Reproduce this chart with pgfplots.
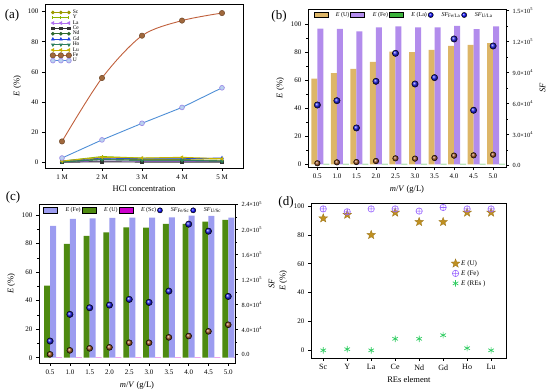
\documentclass[border=0pt]{standalone}
\usepackage{fontspec}
\setmainfont{Liberation Serif}
\usepackage{pgfplots}
\pgfplotsset{compat=1.18}

\definecolor{cSc}{HTML}{9C9A00}
\definecolor{cY}{HTML}{8DB600}
\definecolor{cLa}{HTML}{B070F0}
\definecolor{cCe}{HTML}{333333}
\definecolor{cNd}{HTML}{2E6B2E}
\definecolor{cGd}{HTML}{2244DD}
\definecolor{cHo}{HTML}{2F7F5F}
\definecolor{cLu}{HTML}{C8B400}
\definecolor{cFeL}{HTML}{C0603C}
\definecolor{cFeM}{HTML}{A0683C}
\definecolor{cUL}{HTML}{4F8FD6}
\definecolor{cUM}{HTML}{A090E8}
\definecolor{bU}{HTML}{DDB668}
\definecolor{bFe}{HTML}{B28CEC}
\definecolor{bLa}{HTML}{3CB33C}
\definecolor{cFe2}{HTML}{9C9CF0}
\definecolor{cU2}{HTML}{4E8A10}
\definecolor{cSc2}{HTML}{CC00CC}
\definecolor{sBlue}{HTML}{1A1AE0}
\definecolor{sBrown}{HTML}{9A5020}
\definecolor{dStar}{HTML}{C09020}
\definecolor{dFe}{HTML}{9966FF}
\definecolor{dRE}{HTML}{2ECC60}

\pgfdeclareplotmark{fstar}{%
  \pgfpathmoveto{\pgfpointpolar{90}{\pgfplotmarksize}}%
  \pgfpathlineto{\pgfpointpolar{126}{0.42\pgfplotmarksize}}%
  \pgfpathlineto{\pgfpointpolar{162}{\pgfplotmarksize}}%
  \pgfpathlineto{\pgfpointpolar{198}{0.42\pgfplotmarksize}}%
  \pgfpathlineto{\pgfpointpolar{234}{\pgfplotmarksize}}%
  \pgfpathlineto{\pgfpointpolar{270}{0.42\pgfplotmarksize}}%
  \pgfpathlineto{\pgfpointpolar{306}{\pgfplotmarksize}}%
  \pgfpathlineto{\pgfpointpolar{342}{0.42\pgfplotmarksize}}%
  \pgfpathlineto{\pgfpointpolar{18}{\pgfplotmarksize}}%
  \pgfpathlineto{\pgfpointpolar{54}{0.42\pgfplotmarksize}}%
  \pgfpathclose
  \pgfusepathqfillstroke}

\pgfplotsset{
  base/.style={scale only axis, anchor=south west, tick align=outside,
    axis line style={line width=0.8pt},
    major tick length=3pt, minor tick length=1.6pt,
    every tick/.style={black, line width=0.6pt},
    tick label style={font=\fontsize{7}{8}\selectfont},
    label style={font=\fontsize{8.5}{10}\selectfont},
    /pgf/number format/assume math mode=true,
    scaled y ticks=false, scaled x ticks=false,
    clip mode=individual},
  barleg/.style={legend image code/.code={\fill[##1] (0pt,-2.5pt) rectangle (14pt,3pt);}},
  ballleg/.style={legend image code/.code={\pgfsetplotmarksize{2.6pt}\pgfuseplotmark{ball}}},
}

\begin{document}
\begin{tikzpicture}
\useasboundingbox (0,0) rectangle (550pt,390pt);

% ---------------- (a)
\begin{axis}[base, at={(45pt,222pt)}, width=198pt, height=164pt,
  xmin=-0.425, xmax=4.525, ymin=-3.6, ymax=105,
  xtick={0,1,2,3,4}, xticklabels={1 M,2 M,3 M,4 M,5 M},
  ytick={0,20,...,100}, xtick pos=bottom, ytick pos=left,
  xlabel={HCl concentration}, ylabel={\textit{E} (\%)},
  legend cell align=left,
  legend style={draw=none, fill=none, at={(0.01,0.985)}, anchor=north west,
    font=\fontsize{5.5}{6}\selectfont, row sep=-2.2pt,
    nodes={inner sep=1.2pt}},
  legend image code/.code={\draw[#1] plot coordinates {(0pt,0pt) (8pt,0pt) (16pt,0pt)};},
  every axis plot/.append style={line width=0.9pt, mark size=1.4pt, mark repeat=1}]
\addplot[cSc, mark=*] coordinates {(0,0.5) (1,2.5) (2,2) (3,2) (4,1.5)};
\addlegendentry{Sc}
\addplot[cY, mark=|] coordinates {(0,1) (1,4) (2,3) (3,3) (4,2.5)};
\addlegendentry{Y}
\addplot[cLa, mark=triangle*, mark options={rotate=90}] coordinates {(0,0.3) (1,1) (2,0.8) (3,0.8) (4,0.8)};
\addlegendentry{La}
\addplot[cCe, mark=square*] coordinates {(0,0.2) (1,0.5) (2,0.3) (3,0.3) (4,0.3)};
\addlegendentry{Ce}
\addplot[cNd, mark=*] coordinates {(0,0.5) (1,2) (2,1.5) (3,1.5) (4,1)};
\addlegendentry{Nd}
\addplot[cGd, mark=triangle*] coordinates {(0,1) (1,3) (2,2.5) (3,2.5) (4,3)};
\addlegendentry{Gd}
\addplot[cHo, mark=triangle*, mark options={rotate=180}] coordinates {(0,0.5) (1,2) (2,1.5) (3,1.5) (4,1)};
\addlegendentry{Ho}
\addplot[cLu, mark=triangle*, mark options={rotate=90}] coordinates {(0,1) (1,3.5) (2,3) (3,3.5) (4,2.5)};
\addlegendentry{Lu}
\addplot[cFeL, smooth, mark=*, mark size=2.7pt, mark options={fill=cFeM, draw=cFeM!70!black, line width=0.5pt}] coordinates {(0,14) (1,56) (2,84) (3,94) (4,99)};
\addlegendentry{Fe}
\addplot[cUL, mark=*, mark size=2.4pt, mark options={fill=cUL!40!white, draw=cUM, line width=0.7pt}] coordinates {(0,3) (1,15) (2,26) (3,36.5) (4,49.5)};
\addlegendentry{U}
\end{axis}

% ---------------- (b) left
\begin{axis}[base, at={(308pt,223pt)}, width=198pt, height=158pt,
  xmin=0.26, xmax=5.33, ymin=-1.9, ymax=110.7,
  xtick={0.5,1,1.5,2,2.5,3,3.5,4,4.5,5},
  xticklabels={0.5,1.0,1.5,2.0,2.5,3.0,3.5,4.0,4.5,5.0},
  ytick={0,20,...,100}, minor y tick num=1,
  xtick pos=bottom, ytick pos=left,
  xlabel={\textit{m}/\textit{V} (g/L)}, ylabel={\textit{E} (\%)}]
\addplot[ybar, bar width=6pt, bar shift=-3pt, fill=bU, draw=none] coordinates {(0.5,61) (1,65) (1.5,68) (2,73) (2.5,80.4) (3,80) (3.5,81.6) (4,84.5) (4.5,85.2) (5,86.4)};
\addplot[ybar, bar width=6pt, bar shift=3pt, fill=bFe, draw=none] coordinates {(0.5,96.7) (1,96.6) (1.5,94.7) (2,97.6) (2.5,98.3) (3,97.6) (3.5,97.6) (4,98.6) (4.5,96.4) (5,98.3)};
\addplot[ybar, bar width=6pt, bar shift=9pt, fill=bLa, draw=none] coordinates {(0.5,0.3) (1,0.3) (1.5,0.3) (2,0.3) (2.5,0.3) (3,0.3) (3.5,0.3) (4,0.3) (4.5,0.3) (5,0.3)};
\end{axis}
% ---------------- (b) right
\begin{axis}[base, at={(308pt,223pt)}, width=198pt, height=158pt,
  xmin=0.26, xmax=5.33, ymin=-1300, ymax=151600,
  axis x line=none, axis y line*=right,
  ytick={0,30000,60000,90000,120000,150000}, minor y tick num=1,
  yticklabels={0.0,3.0×10\textsuperscript{4},6.0×10\textsuperscript{4},9.0×10\textsuperscript{4},1.2×10\textsuperscript{5},1.5×10\textsuperscript{5}},
  yticklabel style={font=\fontsize{6.3}{7}\selectfont},
  ylabel={\textit{SF}},
  legend columns=5,
  legend style={draw=none, fill=none, at={(0.012,0.962)}, anchor=west,
    font=\fontsize{6}{7}\selectfont, nodes={inner sep=1pt},
    /tikz/every odd column/.append style={column sep=7pt}}]
\addlegendimage{barleg, fill=bU}
\addlegendentry{\textit{E} (U)}
\addlegendimage{barleg, fill=bFe}
\addlegendentry{\textit{E} (Fe)}
\addlegendimage{barleg, fill=bLa}
\addlegendentry{\textit{E} (La)}
\addplot[only marks, mark=ball, mark size=3.2pt, mark options={ball color=sBlue}, ballleg] coordinates {(0.5,58700) (1,62900) (1.5,36500) (2,81600) (2.5,108700) (3,79000) (3.5,85200) (4,122600) (4.5,53600) (5,115800)};
\addlegendentry{\textit{SF}\textsubscript{Fe/La}}
\addplot[only marks, mark=ball, mark size=2.8pt, mark options={ball color=sBrown}, ballleg] coordinates {(0.5,2300) (1,3200) (1.5,3500) (2,4500) (2.5,7100) (3,6800) (3.5,7400) (4,9700) (4.5,10000) (5,10600)};
\addlegendentry{\textit{SF}\textsubscript{U/La}}
\end{axis}

% ---------------- (c) left
\begin{axis}[base, at={(39pt,27pt)}, width=196pt, height=158.7pt,
  xmin=0.22, xmax=5.17, ymin=-3.7, ymax=107.5,
  xtick={0.5,1,1.5,2,2.5,3,3.5,4,4.5,5},
  xticklabels={0.5,1.0,1.5,2.0,2.5,3.0,3.5,4.0,4.5,5.0},
  ytick={0,20,...,100}, minor y tick num=1,
  xtick pos=bottom, ytick pos=left,
  xlabel={\textit{m}/\textit{V} (g/L)}, ylabel={\textit{E} (\%)}]
\addplot[ybar, bar width=6pt, bar shift=-3pt, fill=cU2, draw=none] coordinates {(0.5,50.5) (1,79.7) (1.5,85.3) (2,87.9) (2.5,91.4) (3,91.1) (3.5,93.7) (4,93.7) (4.5,95.3) (5,96.5)};
\addplot[ybar, bar width=6pt, bar shift=3pt, fill=cFe2, draw=none] coordinates {(0.5,92.3) (1,97.2) (1.5,97.7) (2,98) (2.5,98.1) (3,98.1) (3.5,98.3) (4,99.5) (4.5,99.3) (5,98.1)};
\addplot[ybar, bar width=6pt, bar shift=9pt, fill=cSc2, draw=none] coordinates {(0.5,0.3) (1,0.3) (1.5,0.3) (2,0.3) (2.5,0.3) (3,0.3) (3.5,0.3) (4,0.3) (4.5,0.3) (5,0.4)};
\end{axis}
% ---------------- (c) right
\begin{axis}[base, at={(39pt,27pt)}, width=196pt, height=158.7pt,
  xmin=0.22, xmax=5.17, ymin=-13200, ymax=240000,
  axis x line=none, axis y line*=right,
  ytick={0,40000,80000,120000,160000,200000,240000}, minor y tick num=1,
  yticklabels={0.0,4.0×10\textsuperscript{4},8.0×10\textsuperscript{4},1.2×10\textsuperscript{5},1.6×10\textsuperscript{5},2.0×10\textsuperscript{5},2.4×10\textsuperscript{5}},
  yticklabel style={font=\fontsize{6.3}{7}\selectfont},
  ylabel={\textit{SF}},
  legend columns=5,
  legend style={draw=none, fill=none, at={(0.005,0.962)}, anchor=west,
    font=\fontsize{6}{7}\selectfont, nodes={inner sep=1pt},
    /tikz/every odd column/.append style={column sep=7pt}}]
\addlegendimage{barleg, fill=cFe2}
\addlegendentry{\textit{E} (Fe)}
\addlegendimage{barleg, fill=cU2}
\addlegendentry{\textit{E} (U)}
\addlegendimage{barleg, fill=cSc2}
\addlegendentry{\textit{E} (Sc)}
\addplot[only marks, mark=ball, mark size=3.2pt, mark options={ball color=sBlue}, ballleg] coordinates {(0.5,21800) (1,64400) (1.5,74900) (2,79200) (2.5,88300) (3,83500) (3.5,101500) (4,208300) (4.5,197100) (5,93000)};
\addlegendentry{\textit{SF}\textsubscript{Fe/Sc}}
\addplot[only marks, mark=ball, mark size=3pt, mark options={ball color=sBrown}, ballleg] coordinates {(0.5,600) (1,7000) (1.5,10200) (2,11800) (2.5,19100) (3,19100) (3.5,27700) (4,29800) (4.5,37300) (5,47800)};
\addlegendentry{\textit{SF}\textsubscript{U/Sc}}
\end{axis}

% ---------------- (d)
\begin{axis}[base, at={(311pt,32pt)}, width=195.7pt, height=154.7pt,
  xmin=-0.51, xmax=7.65, ymin=-5.3, ymax=101.9,
  xtick={0,...,7}, xticklabels={Sc,Y,La,Ce,Nd,Gd,Ho,Lu},
  xticklabel style={font=\fontsize{8}{9}\selectfont},
  ytick={0,20,...,100}, xtick pos=bottom, ytick pos=left,
  xlabel={REs element}, ylabel={\textit{E} (\%)},
  legend cell align=left,
  legend style={draw=none, fill=none, at={(0.70,0.655)}, anchor=north west,
    font=\fontsize{7}{8}\selectfont, row sep=1pt, nodes={inner sep=1.3pt}},
  legend image code/.code={\draw[#1] plot coordinates {(5pt,0pt)};}]
\addplot[only marks, mark=fstar, mark size=4.6pt, mark options={fill=dStar, draw=dStar!80!black, line width=0.3pt}] coordinates {(0,91.5) (1,94) (2,80) (3,95.5) (4,89) (5,89) (6,95.5) (7,95.5)};
\addlegendentry{\textit{E} (U)}
\addplot[only marks, mark=oplus, mark size=3.2pt, mark options={draw=dFe, line width=0.6pt}] coordinates {(0,98) (1,96) (2,98) (3,98) (4,96.5) (5,99) (6,98) (7,98)};
\addlegendentry{\textit{E} (Fe)}
\addplot[only marks, mark=asterisk, mark size=3.2pt, mark options={draw=dRE, line width=0.7pt}] coordinates {(0,0) (1,0.8) (2,0) (3,8) (4,8) (5,10.5) (6,1.5) (7,0)};
\addlegendentry{\textit{E} (REs )}
\end{axis}

% panel letters
\node[font=\fontsize{13}{14}\selectfont] at (12pt,375pt) {(a)};
\node[font=\fontsize{13}{14}\selectfont] at (279pt,374pt) {(b)};
\node[font=\fontsize{13}{14}\selectfont] at (13pt,193pt) {(c)};
\node[font=\fontsize{13}{14}\selectfont] at (286pt,188pt) {(d)};
\end{tikzpicture}
\end{document}
